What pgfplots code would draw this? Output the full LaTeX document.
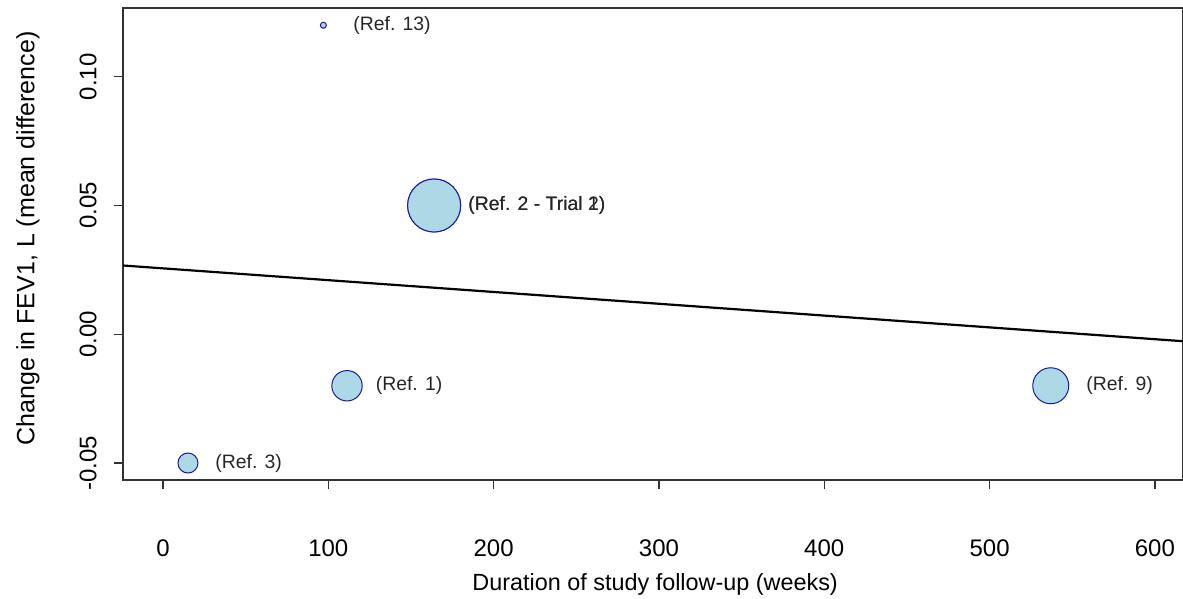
\documentclass[border=0pt]{standalone}
\usepackage{pgfplots}
\pgfplotsset{compat=1.18}
\usepackage{fontspec}
\setmainfont{Liberation Sans}
\definecolor{lblue}{HTML}{ADD8E6}
\definecolor{dblue}{RGB}{25,25,165}
\definecolor{axgray}{RGB}{50,50,50}
\begin{document}
\begin{tikzpicture}
\useasboundingbox (0,0) rectangle (591.5pt,299.5pt);
\begin{axis}[
  at={(61.5pt,59.5pt)}, anchor=south west,
  scale only axis, width=530pt, height=236pt,
  xmin=-24.2, xmax=617, ymin=-0.0566, ymax=0.1267,
  axis line style={axgray, line width=0.6pt},
  xtick={0,100,200,300,400,500,600},
  ytick={-0.05,0,0.05,0.1},
  yticklabels={-0.05,0.00,0.05,0.10},
  tick align=outside, major tick length=4.5pt,
  tick style={axgray, line width=0.6pt},
  xtick pos=bottom, ytick pos=left,
  /pgf/number format/assume math mode=true,
  tick label style={font=\fontsize{12}{14}\selectfont},
  xticklabel style={anchor=north, inner sep=0pt},
  xticklabel shift=25pt,
  yticklabel style={rotate=90, anchor=south, inner sep=0pt},
  yticklabel shift=8.5pt,
  xlabel={Duration of study follow-up (weeks)},
  ylabel={Change in FEV1, L (mean difference)},
  xlabel style={font=\fontsize{11.7}{14}\selectfont, at={(axis description cs:0.502,-0.222)}, anchor=center},
  ylabel style={font=\fontsize{12.5}{14}\selectfont, at={(axis description cs:-0.0896,0.512)}, anchor=center},
  clip=false,
]
\addplot[black, line width=1.1pt] coordinates {(-24.2,0.0267) (617,-0.0027)};
\addplot[only marks, mark=*, mark size=13.25pt, mark options={fill=lblue, draw=dblue, line width=0.5pt}] coordinates {(164,0.05)};
\addplot[only marks, mark=*, mark size=13.25pt, mark options={fill=lblue, draw=dblue, line width=0.5pt}] coordinates {(164,0.05)};
\addplot[only marks, mark=*, mark size=9pt, mark options={fill=lblue, draw=dblue, line width=0.5pt}] coordinates {(537,-0.02)};
\addplot[only marks, mark=*, mark size=7.6pt, mark options={fill=lblue, draw=dblue, line width=0.5pt}] coordinates {(111.3,-0.02)};
\addplot[only marks, mark=*, mark size=5pt, mark options={fill=lblue, draw=dblue, line width=0.5pt}] coordinates {(15.1,-0.05)};
\addplot[only marks, mark=*, mark size=1.5pt, mark options={fill=lblue, draw=dblue, line width=0.5pt}] coordinates {(97,0.12)};
\addplot[only marks, mark=none, nodes near coords, point meta=explicit symbolic,
  nodes near coords style={anchor=west, inner sep=0pt, font=\fontsize{9.7}{12}\selectfont, text=black!85}]
  table[meta=label] {
x y label
114.9 0.12 {(Ref. 13)}
184.5 0.05 {(Ref. 2 - Trial 1)}
184.5 0.05 {(Ref. 2 - Trial 2)}
128.5 -0.02 {(Ref. 1)}
31.5 -0.05 {(Ref. 3)}
558.3 -0.02 {(Ref. 9)}
};
\end{axis}
\end{tikzpicture}
\end{document}
